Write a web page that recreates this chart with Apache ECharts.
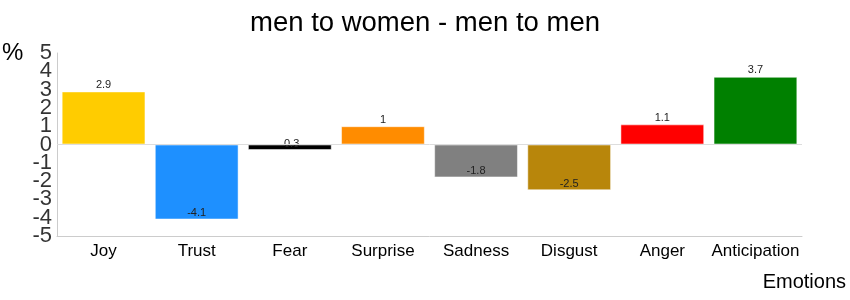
<!DOCTYPE html>
<html><head><meta charset="utf-8">
<script src="https://cdn.jsdelivr.net/npm/echarts@6/dist/echarts.min.js"></script>
<style>html,body{margin:0;padding:0;background:#fff}#c{width:850px;height:300px}</style>
</head><body><div id="c"></div>
<script>
const categories = ['Joy','Trust','Fear','Surprise','Sadness','Disgust','Anger','Anticipation'];
const values = [2.9, -4.1, -0.3, 1, -1.8, -2.5, 1.1, 3.7];
const colors = ['#FFCC00','#1E90FF','#000000','#FF8C00','#808080','#B8860B','#FF0000','#008000'];
const yTicks = [-5,-4,-3,-2,-1,0,1,2,3,4,5];
const FONT = '"Liberation Sans", Arial, sans-serif';
const chart = echarts.init(document.getElementById('c'));
chart.setOption({
  animation: false,
  title: { text: 'men to women - men to men', left: 'center', top: 4,
    textStyle: { fontFamily: FONT, fontSize: 27.5, fontWeight: 'normal', color: '#000' } },
  grid: { left: 57, right: 48, top: 53, bottom: 64 },
  graphic: [
    { type: 'text', left: 2, top: 41, style: { text: '%', font: '24px ' + FONT, fill: '#000' } },
    { type: 'text', right: 4, top: 272, style: { text: 'Emotions', font: '20px ' + FONT, fill: '#000' } }
  ],
  xAxis: {
    type: 'category', data: categories, position: 'bottom',
    axisLine: { onZero: false, lineStyle: { color: '#ccc' } },
    axisTick: { alignWithLabel: true, length: 4, lineStyle: { color: '#ccc' } },
    axisLabel: { interval: 0, fontFamily: FONT, fontSize: 17, color: '#000', margin: 7 }
  },
  yAxis: {
    type: 'value', min: yTicks[0], max: yTicks[yTicks.length-1], interval: 1,
    splitLine: { show: false },
    axisLine: { show: true, lineStyle: { color: '#ccc' } },
    axisTick: { show: false },
    axisLabel: { show: false }
  },
  series: [{
    type: 'bar', barCategoryGap: '10%',
    data: values.map((v, i) => ({
      value: v,
      itemStyle: { color: colors[i], borderColor: 'rgba(255,255,255,0.5)', borderWidth: 1 },
      label: { show: true, position: v >= 0 ? 'top' : 'insideBottom', distance: 1 }
    })),
    label: { fontFamily: FONT, fontSize: 11, color: '#222', formatter: p => String(p.value) },
    markLine: { silent: true, symbol: 'none', label: { show: false },
      lineStyle: { color: '#ddd', type: 'solid', width: 1 }, data: [{ yAxis: 0 }] }
  }, {
    type: 'scatter', silent: true, symbolSize: 0, clip: false,
    data: yTicks.map(t => [0, t]),
    label: { show: true, position: 'left', distance: 51.5, fontFamily: FONT, fontSize: 22,
      color: '#000', formatter: p => String(p.value[1]) },
    labelLayout: { hideOverlap: false }
  }]
});
</script></body></html>
